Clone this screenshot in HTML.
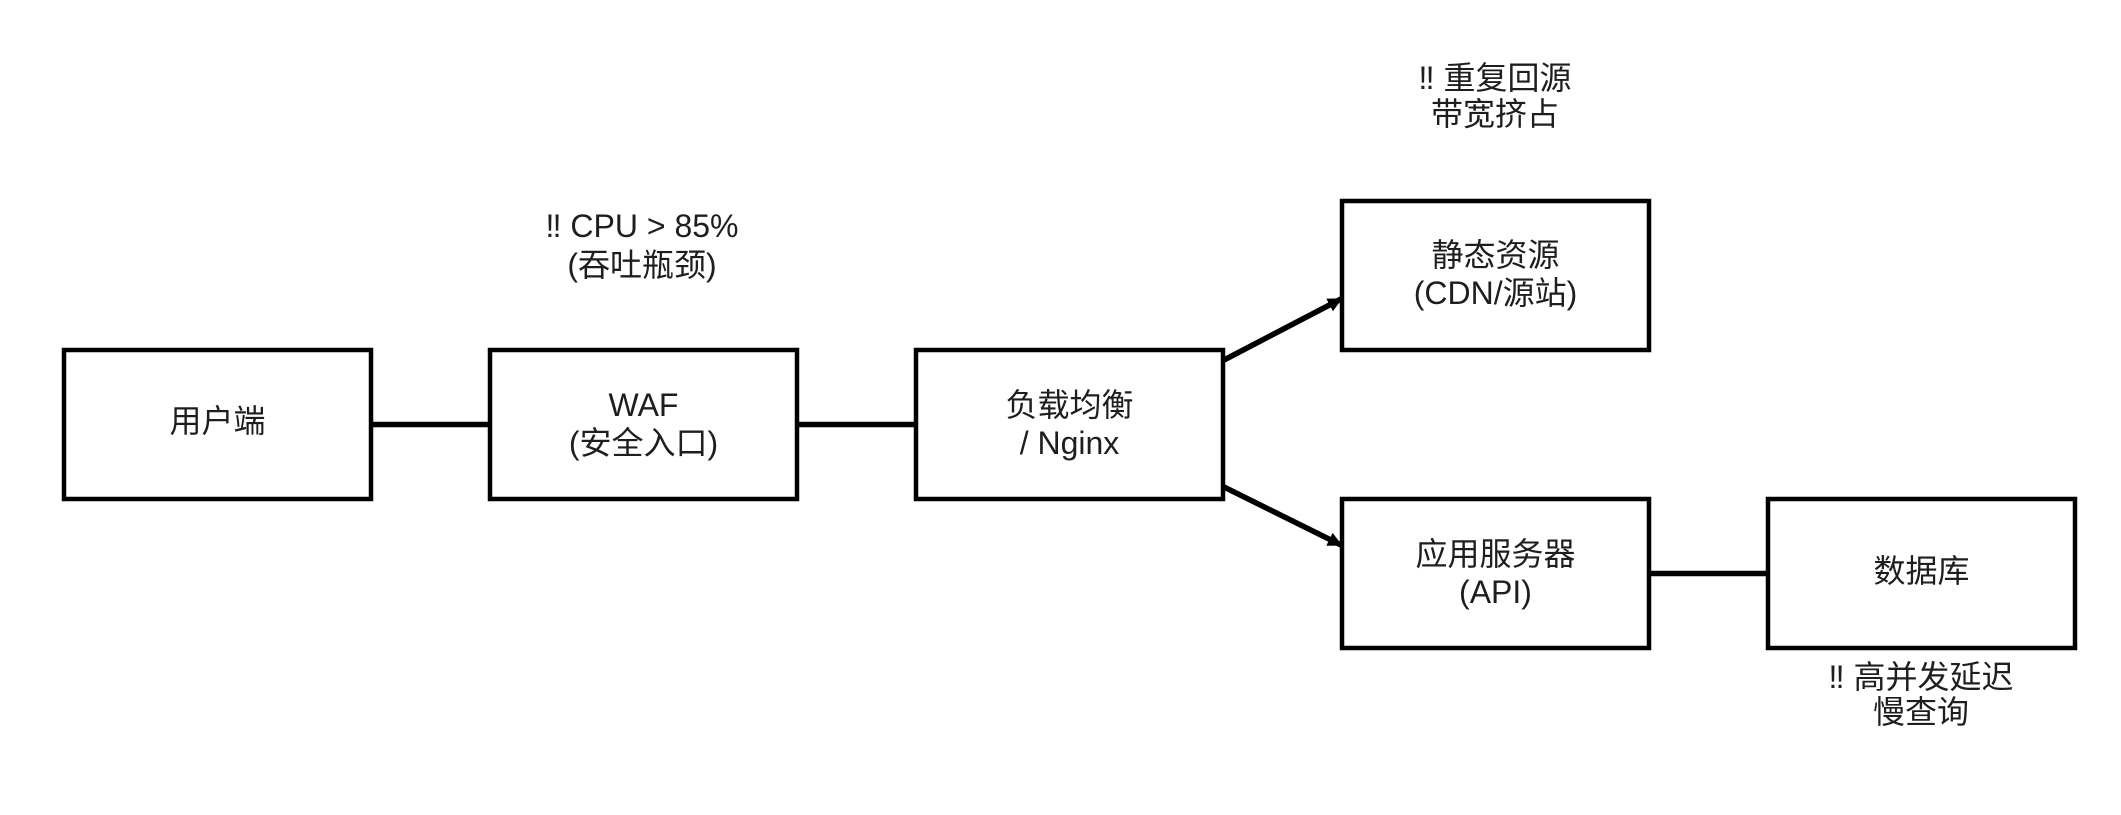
<!DOCTYPE html>
<html>
<head>
<meta charset="utf-8">
<style>
  html, body { margin: 0; padding: 0; background: #ffffff; }
  body { width: 2121px; height: 815px; overflow: hidden; }
  svg { display: block; }
  text {
    font-family: "Liberation Sans", "Noto Sans CJK SC", "DejaVu Sans", sans-serif;
    font-size: 32px;
    fill: #1e1e1e;
    text-anchor: middle;
  }
</style>
</head>
<body>
<svg width="2121" height="815" viewBox="0 0 2121 815" xmlns="http://www.w3.org/2000/svg">
  <defs>
    <marker id="ah" viewBox="0 0 10 10" refX="9" refY="5" markerWidth="2.6" markerHeight="2.6" orient="auto" markerUnits="strokeWidth">
      <path d="M0,0 L10,5 L0,10 z" fill="#000"/>
    </marker>
  </defs>

  <!-- connectors -->
  <g stroke="#000" stroke-width="5.5" fill="none">
    <line x1="371" y1="424.5" x2="490" y2="424.5"/>
    <line x1="797" y1="424.5" x2="916" y2="424.5"/>
    <line x1="1224" y1="360" x2="1341" y2="299" marker-end="url(#ah)"/>
    <line x1="1224" y1="487" x2="1341" y2="545" marker-end="url(#ah)"/>
    <line x1="1649" y1="573.5" x2="1768" y2="573.5"/>
  </g>

  <!-- boxes -->
  <g stroke="#000" stroke-width="4.5" fill="#fff">
    <rect x="64" y="350" width="307" height="149"/>
    <rect x="490" y="350" width="307" height="149"/>
    <rect x="916" y="350" width="307" height="149"/>
    <rect x="1342" y="201" width="307" height="149"/>
    <rect x="1342" y="499" width="307" height="149"/>
    <rect x="1768" y="499" width="307" height="149"/>
  </g>

  <!-- box labels -->
  <text x="217.5" y="432">用户端</text>

  <text x="643.5" y="416">WAF</text>
  <text x="643.5" y="454">(安全入口)</text>

  <text x="1069.5" y="416">负载均衡</text>
  <text x="1069.5" y="454">/ Nginx</text>

  <text x="1495.5" y="266">静态资源</text>
  <text x="1495.5" y="304">(CDN/源站)</text>

  <text x="1495.5" y="565">应用服务器</text>
  <text x="1495.5" y="603">(API)</text>

  <text x="1921.5" y="582">数据库</text>

  <!-- annotations -->
  <text x="642" y="237">‼ CPU &gt; 85%</text>
  <text x="642" y="276">(吞吐瓶颈)</text>

  <text x="1495" y="89">‼ 重复回源</text>
  <text x="1495" y="125">带宽挤占</text>

  <text x="1921" y="688">‼ 高并发延迟</text>
  <text x="1921" y="723">慢查询</text>
</svg>
</body>
</html>
